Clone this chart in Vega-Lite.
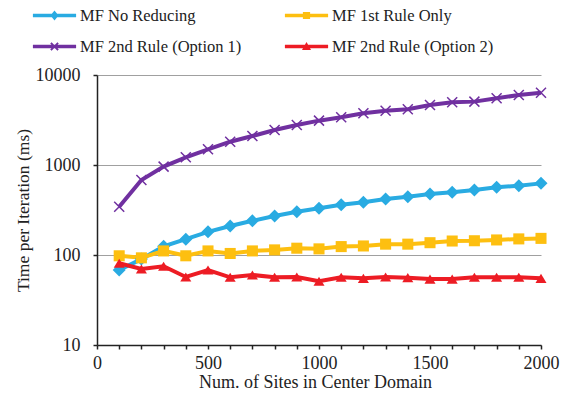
{
  "$schema": "https://vega.github.io/schema/vega-lite/v6.json",
  "width": 444,
  "height": 270,
  "autosize": {"type": "none"},
  "padding": {"left": 97, "top": 75, "right": 33, "bottom": 51},
  "background": "white",
  "config": {
    "view": {"stroke": null},
    "axisX": {"labelFont": "Liberation Serif", "titleFont": "Liberation Serif"},
    "axisY": {"labelFont": "Liberation Serif", "titleFont": "Liberation Serif"},
    "axis": {"labelFontSize": 18, "titleFontWeight": "normal", "labelColor": "#222", "titleColor": "#222", "domainColor": "#222", "tickColor": "#222", "domainWidth": 1.5, "tickWidth": 1.5, "tickSize": 4}
  },
  "data": {"values": [
    {"x": 100, "series": "MF No Reducing", "y": 68},
    {"x": 200, "series": "MF No Reducing", "y": 90},
    {"x": 300, "series": "MF No Reducing", "y": 125},
    {"x": 400, "series": "MF No Reducing", "y": 150},
    {"x": 500, "series": "MF No Reducing", "y": 181},
    {"x": 600, "series": "MF No Reducing", "y": 210},
    {"x": 700, "series": "MF No Reducing", "y": 240},
    {"x": 800, "series": "MF No Reducing", "y": 271},
    {"x": 900, "series": "MF No Reducing", "y": 303},
    {"x": 1000, "series": "MF No Reducing", "y": 330},
    {"x": 1100, "series": "MF No Reducing", "y": 362},
    {"x": 1200, "series": "MF No Reducing", "y": 385},
    {"x": 1300, "series": "MF No Reducing", "y": 419},
    {"x": 1400, "series": "MF No Reducing", "y": 444},
    {"x": 1500, "series": "MF No Reducing", "y": 476},
    {"x": 1600, "series": "MF No Reducing", "y": 498},
    {"x": 1700, "series": "MF No Reducing", "y": 528},
    {"x": 1800, "series": "MF No Reducing", "y": 565},
    {"x": 1900, "series": "MF No Reducing", "y": 589},
    {"x": 2000, "series": "MF No Reducing", "y": 625},
    {"x": 100, "series": "MF 1st Rule Only", "y": 98},
    {"x": 200, "series": "MF 1st Rule Only", "y": 93},
    {"x": 300, "series": "MF 1st Rule Only", "y": 111},
    {"x": 400, "series": "MF 1st Rule Only", "y": 98},
    {"x": 500, "series": "MF 1st Rule Only", "y": 111},
    {"x": 600, "series": "MF 1st Rule Only", "y": 104},
    {"x": 700, "series": "MF 1st Rule Only", "y": 111},
    {"x": 800, "series": "MF 1st Rule Only", "y": 114},
    {"x": 900, "series": "MF 1st Rule Only", "y": 119},
    {"x": 1000, "series": "MF 1st Rule Only", "y": 117},
    {"x": 1100, "series": "MF 1st Rule Only", "y": 124},
    {"x": 1200, "series": "MF 1st Rule Only", "y": 126},
    {"x": 1300, "series": "MF 1st Rule Only", "y": 132},
    {"x": 1400, "series": "MF 1st Rule Only", "y": 132},
    {"x": 1500, "series": "MF 1st Rule Only", "y": 137},
    {"x": 1600, "series": "MF 1st Rule Only", "y": 143},
    {"x": 1700, "series": "MF 1st Rule Only", "y": 144},
    {"x": 1800, "series": "MF 1st Rule Only", "y": 147},
    {"x": 1900, "series": "MF 1st Rule Only", "y": 151},
    {"x": 2000, "series": "MF 1st Rule Only", "y": 153},
    {"x": 100, "series": "MF 2nd Rule (Option 1)", "y": 344},
    {"x": 200, "series": "MF 2nd Rule (Option 1)", "y": 681},
    {"x": 300, "series": "MF 2nd Rule (Option 1)", "y": 960},
    {"x": 400, "series": "MF 2nd Rule (Option 1)", "y": 1218},
    {"x": 500, "series": "MF 2nd Rule (Option 1)", "y": 1494},
    {"x": 600, "series": "MF 2nd Rule (Option 1)", "y": 1815},
    {"x": 700, "series": "MF 2nd Rule (Option 1)", "y": 2100},
    {"x": 800, "series": "MF 2nd Rule (Option 1)", "y": 2450},
    {"x": 900, "series": "MF 2nd Rule (Option 1)", "y": 2780},
    {"x": 1000, "series": "MF 2nd Rule (Option 1)", "y": 3110},
    {"x": 1100, "series": "MF 2nd Rule (Option 1)", "y": 3390},
    {"x": 1200, "series": "MF 2nd Rule (Option 1)", "y": 3750},
    {"x": 1300, "series": "MF 2nd Rule (Option 1)", "y": 4015},
    {"x": 1400, "series": "MF 2nd Rule (Option 1)", "y": 4160},
    {"x": 1500, "series": "MF 2nd Rule (Option 1)", "y": 4640},
    {"x": 1600, "series": "MF 2nd Rule (Option 1)", "y": 4970},
    {"x": 1700, "series": "MF 2nd Rule (Option 1)", "y": 5060},
    {"x": 1800, "series": "MF 2nd Rule (Option 1)", "y": 5510},
    {"x": 1900, "series": "MF 2nd Rule (Option 1)", "y": 5990},
    {"x": 2000, "series": "MF 2nd Rule (Option 1)", "y": 6350},
    {"x": 100, "series": "MF 2nd Rule (Option 2)", "y": 81},
    {"x": 200, "series": "MF 2nd Rule (Option 2)", "y": 70},
    {"x": 300, "series": "MF 2nd Rule (Option 2)", "y": 75},
    {"x": 400, "series": "MF 2nd Rule (Option 2)", "y": 57},
    {"x": 500, "series": "MF 2nd Rule (Option 2)", "y": 68},
    {"x": 600, "series": "MF 2nd Rule (Option 2)", "y": 56.5},
    {"x": 700, "series": "MF 2nd Rule (Option 2)", "y": 60},
    {"x": 800, "series": "MF 2nd Rule (Option 2)", "y": 56.5},
    {"x": 900, "series": "MF 2nd Rule (Option 2)", "y": 57},
    {"x": 1000, "series": "MF 2nd Rule (Option 2)", "y": 51},
    {"x": 1100, "series": "MF 2nd Rule (Option 2)", "y": 56.5},
    {"x": 1200, "series": "MF 2nd Rule (Option 2)", "y": 55},
    {"x": 1300, "series": "MF 2nd Rule (Option 2)", "y": 57},
    {"x": 1400, "series": "MF 2nd Rule (Option 2)", "y": 56},
    {"x": 1500, "series": "MF 2nd Rule (Option 2)", "y": 54},
    {"x": 1600, "series": "MF 2nd Rule (Option 2)", "y": 54},
    {"x": 1700, "series": "MF 2nd Rule (Option 2)", "y": 56.5},
    {"x": 1800, "series": "MF 2nd Rule (Option 2)", "y": 56.5},
    {"x": 1900, "series": "MF 2nd Rule (Option 2)", "y": 56.5},
    {"x": 2000, "series": "MF 2nd Rule (Option 2)", "y": 55}
  ]},
  "encoding": {
    "x": {"field": "x", "type": "quantitative", "scale": {"domain": [0, 2000], "nice": false},
      "axis": {"title": "Num. of Sites in Center Domain", "titleFontSize": 18, "titleX": 218, "values": [0,100,200,300,400,500,600,700,800,900,1000,1100,1200,1300,1400,1500,1600,1700,1800,1900,2000], "labelExpr": "datum.value % 500 === 0 ? datum.label : ''", "format": "d", "grid": false, "labelPadding": 5, "titlePadding": 1, "labelFlush": false, "labelOverlap": false}},
    "y": {"field": "y", "type": "quantitative", "scale": {"type": "log", "domain": [10, 10000], "nice": false},
      "axis": {"title": "Time per Iteration (ms)", "titleFontSize": 17.5, "values": [10, 100, 1000, 10000], "format": "d", "grid": true, "gridColor": "#a0a0a0", "gridWidth": 1, "labelPadding": 13, "titlePadding": 3}},
    "color": {"field": "series", "type": "nominal",
      "scale": {"domain": ["MF No Reducing", "MF 1st Rule Only", "MF 2nd Rule (Option 1)", "MF 2nd Rule (Option 2)"], "range": ["#29abe2", "#fdbf10", "#7030a0", "#ed1c24"]},
      "legend": {"orient": "none", "direction": "horizontal", "legendX": -65, "legendY": -82, "columns": 2, "title": null, "symbolSize": 2025, "symbolStrokeWidth": 0, "rowPadding": -13, "columnPadding": 42, "labelOffset": 3, "labelFont": "Liberation Serif", "labelFontSize": 16.5, "labelColor": "#222", "labelLimit": 300,
        "symbolType": {"expr": "datum.value === 'MF No Reducing' ? 'M-0.96,-0.08H0.96V0.08H-0.96Z M0,-0.22L0.18,0L0,0.22L-0.18,0Z' : datum.value === 'MF 1st Rule Only' ? 'M-0.96,-0.08H0.96V0.08H-0.96Z M-0.16,-0.16H0.16V0.16H-0.16Z' : datum.value === 'MF 2nd Rule (Option 1)' ? 'M-0.96,-0.08H0.96V0.08H-0.96Z M-0.13,-0.19L0.19,0.13L0.13,0.19L-0.19,-0.13Z M0.19,-0.13L-0.13,0.19L-0.19,0.13L0.13,-0.19Z' : 'M-0.96,-0.08H0.96V0.08H-0.96Z M0,-0.2L0.2,0.15L-0.2,0.15Z'"},
        "symbolFillColor": {"expr": "scale('color', datum.value)"},
        "symbolStrokeColor": "transparent",
        "symbolOpacity": 1
      }}
  },
  "layer": [
    {"mark": {"type": "line", "strokeWidth": 4}},
    {"transform": [{"filter": "datum.series !== 'MF 2nd Rule (Option 1)'"}],
     "mark": {"type": "point", "filled": true, "opacity": 1, "size": 169},
     "encoding": {"shape": {"field": "series", "type": "nominal", "legend": null,
       "scale": {"domain": ["MF No Reducing", "MF 1st Rule Only", "MF 2nd Rule (Option 2)"], "range": ["M0,-1L1,0L0,1L-1,0Z", "M-0.85,-0.85H0.85V0.85H-0.85Z", "M0,-0.7L0.85,0.7L-0.85,0.7Z"]}}}},
    {"transform": [{"filter": "datum.series === 'MF 2nd Rule (Option 1)'"}],
     "mark": {"type": "point", "filled": false, "opacity": 1, "size": 100, "strokeWidth": 1.5, "shape": "M-1,-1L1,1M-1,1L1,-1"}}
  ]
}
